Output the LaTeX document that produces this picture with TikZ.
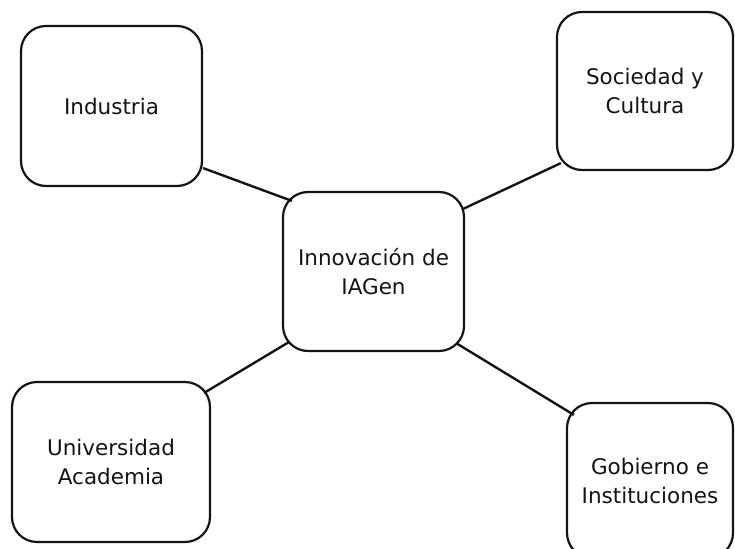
\documentclass[tikz,border=0pt]{standalone}
\usepackage{fontspec}
\setmainfont{DejaVu Sans}
\usepackage{xcolor}
\usepackage{tikz}
\usetikzlibrary{positioning}
\definecolor{inkblack}{RGB}{20,20,20}

\begin{document}
\begin{tikzpicture}[x=1pt,y=-1pt,
    actor/.style={draw=inkblack,line width=2.2pt,rounded corners=25pt,
        align=center,text=inkblack,inner sep=0pt,
        font=\fontsize{21.5}{29}\selectfont},
    link/.style={draw=inkblack,line width=2.4pt}]
    \useasboundingbox (0,0) rectangle (735,548);
    % Actors
    \node[actor,minimum width=181pt,minimum height=159pt] (ctr) at (373.5,271.5) {Innovación de\\IAGen};
    \node[actor,minimum width=181pt,minimum height=160pt] (ind) at (111.5,106) {Industria};
    \node[actor,minimum width=176pt,minimum height=158pt] (soc) at (645,91) {Sociedad y\\Cultura};
    \node[actor,minimum width=198pt,minimum height=160pt] (uni) at (111,462) {Universidad\\Academia};
    \node[actor,minimum width=166pt,minimum height=155pt] (gob) at (650,480.5) {Gobierno e\\Instituciones};
    
    % Links
    \draw[link] ([yshift=19pt]ind.south east) -- ([shift={(10pt,-10pt)}]ctr.north west);
    \draw[link] ([shift={(5pt,8pt)}]soc.south west) -- ([shift={(-2pt,-18pt)}]ctr.north east);
    \draw[link] ([shift={(-7pt,-12pt)}]uni.north east) -- ([shift={(7pt,10pt)}]ctr.south west);
    \draw[link] ([shift={(8pt,-13pt)}]gob.north west) -- ([shift={(-9pt,9pt)}]ctr.south east);
\end{tikzpicture}
\end{document}
